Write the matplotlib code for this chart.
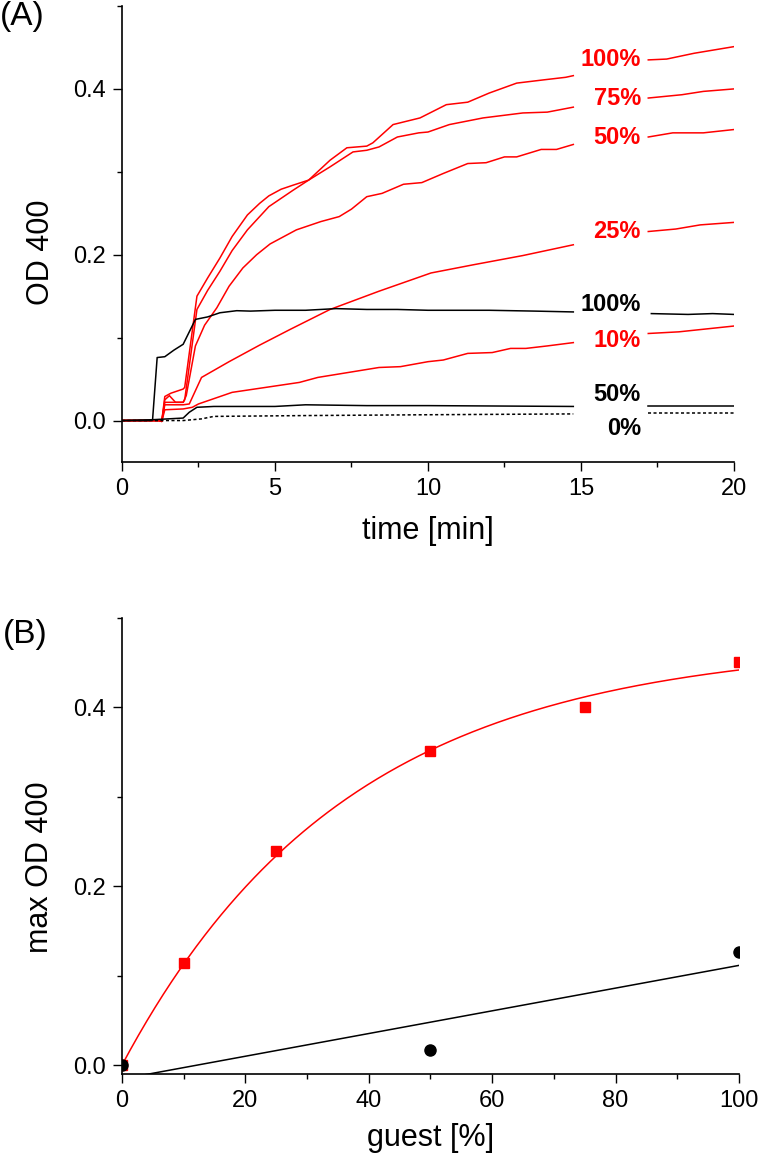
import numpy as np
import matplotlib
matplotlib.use('Agg')
import matplotlib.pyplot as plt
from matplotlib.ticker import MultipleLocator, FormatStrFormatter

plt.rcParams['font.family'] = ['Liberation Sans', 'DejaVu Sans']

# (A) kinetics, OD 400 vs time [min]; lines have a gap where the labels sit
GAP = (14.8, 17.15)

t_r100 = [0, 1.2, 1.3, 1.4, 1.6, 2.0, 2.05, 2.45, 2.8, 3.2, 3.6, 4.1, 4.5, 4.8, 5.2, 5.6, 6.1, 6.8, 7.35, 8.0, 8.2,
          8.86, 9.3, 9.74, 10.6, 11.3, 12.0, 12.9, 13.8, 14.5, 14.75, 17.2, 17.8, 18.7, 20]
v_r100 = [0, 0, -0.001, 0.029, 0.033, 0.038, 0.04, 0.15, 0.172, 0.196, 0.222, 0.248, 0.262, 0.271, 0.279, 0.284,
          0.29, 0.314, 0.329, 0.331, 0.335, 0.357, 0.361, 0.365, 0.381, 0.384, 0.395, 0.407, 0.411, 0.414, 0.416,
          0.435, 0.436, 0.443, 0.451]

t_r75 = [0, 1.2, 1.3, 1.4, 1.55, 1.75, 2.0, 2.05, 2.45, 2.8, 3.2, 3.6, 4.1, 4.8, 5.6, 6.1, 6.8, 7.55, 8.0, 8.4,
         9.0, 9.7, 10.0, 10.7, 11.8, 13.1, 13.9, 14.75, 17.2, 18.3, 19.0, 20]
v_r75 = [0, 0, -0.001, 0.025, 0.03, 0.022, 0.022, 0.025, 0.134, 0.157, 0.18, 0.205, 0.23, 0.258, 0.278, 0.29,
         0.306, 0.324, 0.326, 0.33, 0.342, 0.347, 0.348, 0.357, 0.365, 0.371, 0.372, 0.378, 0.389, 0.393, 0.397,
         0.4]

t_r50 = [0, 1.2, 1.3, 1.4, 2.0, 2.1, 2.4, 2.7, 3.1, 3.5, 3.95, 4.4, 4.84, 5.7, 6.5, 7.1, 7.5, 8.0, 8.5, 9.2,
         9.8, 10.5, 11.3, 11.9, 12.5, 12.9, 13.7, 14.2, 14.75, 17.2, 18.0, 19.0, 20]
v_r50 = [0, 0, -0.001, 0.022, 0.022, 0.03, 0.09, 0.115, 0.136, 0.162, 0.184, 0.2, 0.213, 0.23, 0.24, 0.246,
         0.255, 0.27, 0.274, 0.285, 0.287, 0.298, 0.31, 0.311, 0.318, 0.318, 0.327, 0.327, 0.333, 0.342, 0.347,
         0.347, 0.351]

t_r25 = [0, 1.2, 1.3, 1.4, 2.0, 2.2, 2.6, 3.5, 4.5, 5.5, 6.8, 8.4, 10.1, 11.5, 13.1, 14.75, 17.2, 18.1,
         18.9, 20]
v_r25 = [0, 0, -0.001, 0.019, 0.019, 0.02, 0.052, 0.071, 0.091, 0.11, 0.134, 0.156, 0.178, 0.188, 0.199,
         0.212, 0.228, 0.231, 0.236, 0.239]

t_r10 = [0, 1.2, 1.3, 1.4, 2.0, 2.3, 2.5, 3.6, 5.8, 6.4, 8.4, 9.1, 10.0, 10.5, 11.3, 12.1, 12.7, 13.2,
         13.9, 14.75, 17.2, 18.2, 20]
v_r10 = [0, 0, -0.001, 0.013, 0.014, 0.016, 0.02, 0.034, 0.046, 0.052, 0.064, 0.065, 0.071, 0.073, 0.081,
         0.082, 0.087, 0.087, 0.09, 0.094, 0.105, 0.107, 0.114]

t_k100 = [0, 0.9, 1.0, 1.15, 1.4, 1.7, 2.0, 2.4, 2.8, 3.2, 3.75, 4.2, 5, 6, 7, 8, 9, 10, 12, 13.5, 14.75,
          17.3, 18.5, 19.3, 20]
v_k100 = [0, 0, 0.001, 0.076, 0.077, 0.085, 0.092, 0.122, 0.125, 0.13, 0.1325, 0.132, 0.133, 0.133, 0.135,
          0.134, 0.134, 0.133, 0.133, 0.132, 0.131, 0.129, 0.128, 0.129, 0.128]

t_k50 = [0, 1.0, 2.0, 2.2, 2.45, 3, 5, 6, 8, 10, 14.75, 17.2, 20]
v_k50 = [0, 0.001, 0.003, 0.01, 0.016, 0.017, 0.017, 0.019, 0.018, 0.018, 0.017, 0.017, 0.017]

t_k0 = [0, 2.0, 2.3, 2.6, 3.0, 6, 10, 14.75, 17.2, 20]
v_k0 = [0, 0.0, 0.001, 0.002, 0.005, 0.006, 0.007, 0.008, 0.009, 0.009]

labels = ['100%', '75%', '50%', '25%', '100%', '10%', '50%', '0%']
label_y = [0.436, 0.389, 0.342, 0.228, 0.140, 0.096, 0.032, -0.010]
label_col = ['red', 'red', 'red', 'red', 'black', 'red', 'black', 'black']

# (B) max OD 400 vs guest [%]
guest_red = [0, 10, 25, 50, 75, 100]
max_red = [0.0, 0.114, 0.239, 0.351, 0.400, 0.451]
guest_blk = [0, 50, 100]
max_blk = [0.0, 0.017, 0.127]


def plot_broken(ax, t, v, **kw):
    t = np.asarray(t, dtype=float); v = np.asarray(v, dtype=float)
    left = t <= GAP[0]
    right = t >= GAP[1]
    ax.plot(t[left], v[left], **kw)
    ax.plot(t[right], v[right], **kw)


def style(ax):
    for s in ['top', 'right']:
        ax.spines[s].set_visible(False)
    for s in ['left', 'bottom']:
        ax.spines[s].set_linewidth(1.2)
    ax.tick_params(which='major', direction='out', length=6.5, width=1.0, labelsize=17, pad=5)
    ax.tick_params(which='minor', direction='out', length=3.5, width=1.0)
    ax.yaxis.set_major_formatter(FormatStrFormatter('%.1f'))


fig = plt.figure(figsize=(7.59, 11.55), dpi=100)
ax1 = fig.add_axes([0.1607, 0.6, 0.8063, 0.3948])
ax2 = fig.add_axes([0.1607, 0.0701, 0.8129, 0.3948])

lw = 1.1
for t, v in [(t_r100, v_r100), (t_r75, v_r75), (t_r50, v_r50), (t_r25, v_r25), (t_r10, v_r10)]:
    plot_broken(ax1, t, v, color='red', lw=lw)
plot_broken(ax1, t_k100, v_k100, color='black', lw=lw)
plot_broken(ax1, t_k50, v_k50, color='black', lw=lw)
plot_broken(ax1, t_k0, v_k0, color='black', lw=lw, linestyle=(0, (2, 1.6)))

for lab, y, c in zip(labels, label_y, label_col):
    ax1.text(16.96, y, lab, color=c, fontsize=17, fontweight='bold', ha='right', va='center')

ax1.set_xlim(0, 20)
ax1.set_ylim(-0.05, 0.5)
ax1.xaxis.set_major_locator(MultipleLocator(5))
ax1.xaxis.set_minor_locator(MultipleLocator(2.5))
ax1.yaxis.set_major_locator(MultipleLocator(0.2))
ax1.yaxis.set_minor_locator(MultipleLocator(0.1))
style(ax1)
ax1.xaxis.set_major_formatter(FormatStrFormatter('%d'))
ax1.set_xlabel('time [min]', fontsize=22)
ax1.set_ylabel('OD 400', fontsize=22)
ax1.yaxis.set_label_coords(-0.108, 0.46)
ax1.xaxis.set_label_coords(0.5, -0.118)

# saturation fit for red points, linear fit for black ones
g = np.array(guest_red, dtype=float); y = np.array(max_red)
best = None
for b in np.linspace(0.002, 0.2, 4000):
    f = 1 - np.exp(-b * g)
    a = np.sum(f * y) / np.sum(f * f)
    r = np.sum((a * f - y) ** 2)
    if best is None or r < best[0]:
        best = (r, a, b)
_, a_fit, b_fit = best
gg = np.linspace(0, 100, 300)
ax2.plot(gg, a_fit * (1 - np.exp(-b_fit * gg)), color='red', lw=lw)
k, c0 = np.polyfit(guest_blk, max_blk, 1)
ax2.plot([0, 100], [c0, c0 + 100 * k], color='black', lw=lw)

ax2.plot(guest_red, max_red, 's', color='red', ms=7.7, zorder=3)
ax2.plot(guest_blk, max_blk, 'o', color='black', ms=8, zorder=4)

ax2.set_xlim(0, 100)
ax2.set_ylim(-0.01, 0.5)
ax2.xaxis.set_major_locator(MultipleLocator(20))
ax2.xaxis.set_minor_locator(MultipleLocator(10))
ax2.yaxis.set_major_locator(MultipleLocator(0.2))
ax2.yaxis.set_minor_locator(MultipleLocator(0.1))
style(ax2)
ax2.xaxis.set_major_formatter(FormatStrFormatter('%d'))
ax2.set_xlabel('guest [%]', fontsize=22)
ax2.set_ylabel('max OD 400', fontsize=22)
ax2.yaxis.set_label_coords(-0.108, 0.454)
ax2.xaxis.set_label_coords(0.5, -0.108)

fig.text(0.0, 1 - 17 / 1155, '(A)', fontsize=24, ha='left', va='center')
fig.text(0.004, 1 - 634 / 1155, '(B)', fontsize=24, ha='left', va='center')

fig.savefig('out.png', dpi=100)
